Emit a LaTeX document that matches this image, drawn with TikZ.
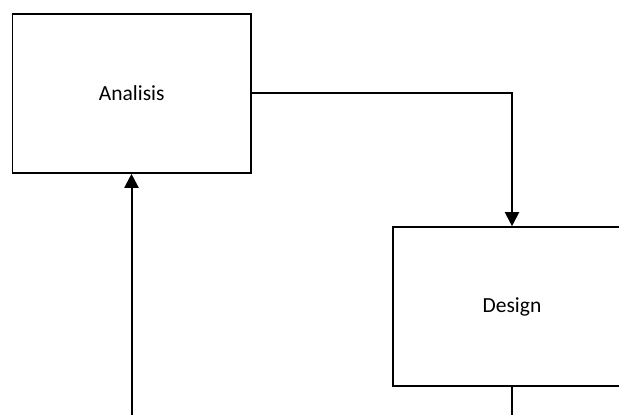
\documentclass[tikz,border=0pt]{standalone}
\usepackage{fontspec}
\setmainfont{Carlito}
\usetikzlibrary{arrows.meta}
\begin{document}
\begin{tikzpicture}[x=1pt,y=1pt,
  stepbox/.style={draw=black, line width=1.6pt, fill=white, inner sep=0pt, font=\fontsize{21.5}{26}\selectfont},
  linkline/.style={line width=2pt, draw=black},
  arr/.style={linkline, -{Triangle[length=14pt,width=14pt]}}]
\useasboundingbox (0,0) rectangle (619,415);
\clip (0,0) rectangle (619,415);
% y_tikz = 415 - y_image
\node[stepbox, minimum width=238.5pt, minimum height=159pt] (A) at (131.75,321.5) {Analisis};
\node[stepbox, minimum width=238pt, minimum height=159pt] (D) at (512,108.5) {Design};
\coordinate (inA) at (131.5,-2);
\coordinate (outD) at (512,-2);
\draw[arr, line width=2pt] (A.east) -| (D.north);
\draw[arr, line width=2pt] (inA) -- (A.south -| inA);
\draw[linkline, line width=2pt] (D.south) -- (outD);
\end{tikzpicture}
\end{document}
